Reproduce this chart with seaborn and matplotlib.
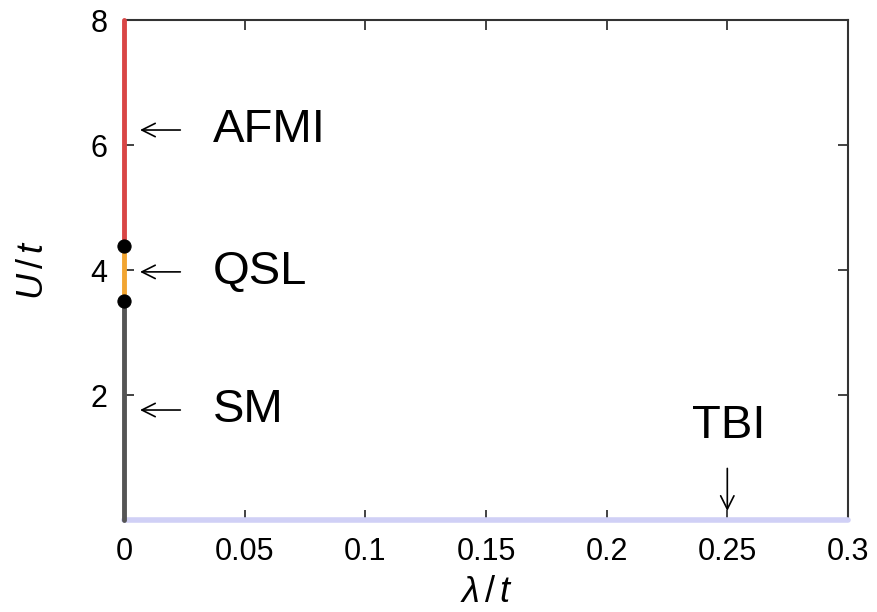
import matplotlib
matplotlib.use("Agg")
import matplotlib.pyplot as plt
import seaborn as sns
import pandas as pd

# Phase boundaries on the lambda = 0 axis (U/t)
u_sm_qsl = 3.5
u_qsl_afmi = 4.38
u_max = 8.0
lam_max = 0.3

# Segments of the phase diagram
phase_names = ["SM", "QSL", "AFMI"]
phase_u_low = [0.0, u_sm_qsl, u_qsl_afmi]
phase_u_high = [u_sm_qsl, u_qsl_afmi, u_max]
phase_colors = ["#555555", "#f2a531", "#d94545"]

# TBI phase along U = 0
tbi_lambda = [0.0, lam_max]
tbi_u = [0.0, 0.0]

# Transition points
crit_lambda = [0.0, 0.0]
crit_u = [u_sm_qsl, u_qsl_afmi]

x_ticks = [0, 0.05, 0.1, 0.15, 0.2, 0.25, 0.3]
x_tick_labels = ["0", "0.05", "0.1", "0.15", "0.2", "0.25", "0.3"]
y_ticks = [2, 4, 6, 8]
y_tick_labels = ["2", "4", "6", "8"]

sns.set_style("ticks")
plt.rcParams["font.family"] = ["Liberation Sans", "DejaVu Sans"]
plt.rcParams["mathtext.fontset"] = "custom"
plt.rcParams["mathtext.it"] = "Liberation Sans:italic"
plt.rcParams["mathtext.rm"] = "Liberation Sans"
plt.rcParams["text.color"] = "black"
plt.rcParams["axes.labelcolor"] = "black"

fig = plt.figure(figsize=(8.78, 6.12), dpi=100)
ax = fig.add_axes([0.1412, 0.1503, 0.8246, 0.817])

tbi_df = pd.DataFrame({"lam": tbi_lambda, "U": tbi_u})
sns.lineplot(data=tbi_df, x="lam", y="U", color="#d0d0f6", lw=4,
             ax=ax, clip_on=False, zorder=3)

for name, lo, hi, col in zip(phase_names, phase_u_low, phase_u_high, phase_colors):
    seg = pd.DataFrame({"lam": [0.0, 0.0], "U": [lo, hi]})
    sns.lineplot(data=seg, x="lam", y="U", color=col, lw=3.5, ax=ax,
                 clip_on=False, zorder=4, sort=False, estimator=None)

pts = pd.DataFrame({"lam": crit_lambda, "U": crit_u})
sns.scatterplot(data=pts, x="lam", y="U", color="black", s=90, ax=ax,
                clip_on=False, zorder=5, edgecolor="black")

ax.set_xlim(0, lam_max)
ax.set_ylim(0, u_max)
ax.set_xticks(x_ticks)
ax.set_xticklabels(x_tick_labels)
ax.set_yticks(y_ticks)
ax.set_yticklabels(y_tick_labels)
ax.tick_params(direction="in", length=7, width=1.2, labelsize=22,
               top=True, right=True, pad=12, colors="#222222", labelcolor="black")
for sp in ax.spines.values():
    sp.set_linewidth(1.5)
    sp.set_color("#333333")

ax.set_xlabel(r"$\lambda\,/\,t$", fontsize=26, labelpad=6)
ax.set_ylabel(r"$U\,/\,t$", fontsize=26, labelpad=28)

# Phase labels with arrows pointing to the axis segments
arrow_kw = dict(arrowstyle="->", lw=1.2, color="black", mutation_scale=24)
label_rows = [("AFMI", 6.24), ("QSL", 3.97), ("SM", 1.76)]
for text, u in label_rows:
    ax.annotate("", xy=(0.0055, u), xytext=(0.0245, u), arrowprops=arrow_kw)
    ax.text(0.0368, u, text, fontsize=34, va="center", ha="left")

ax.annotate("", xy=(0.25, 0.1), xytext=(0.25, 0.87), arrowprops=arrow_kw)
ax.text(0.2505, 1.5, "TBI", fontsize=34, va="center", ha="center")

fig.savefig("out.png", dpi=100)
